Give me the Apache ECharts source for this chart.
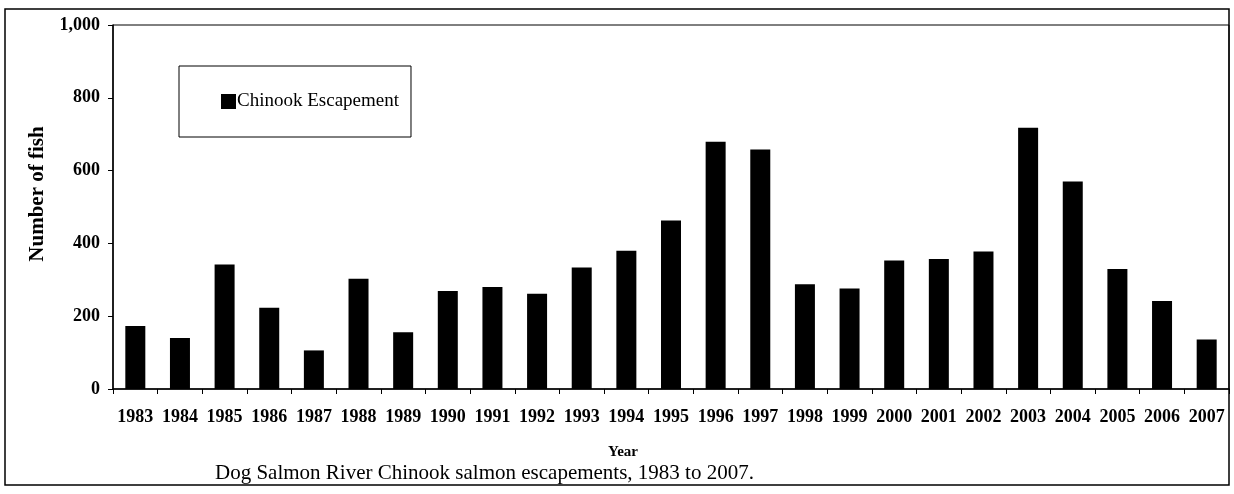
<!DOCTYPE html>
<html>
<head>
<meta charset="utf-8">
<script src="https://cdn.jsdelivr.net/npm/echarts@6/dist/echarts.min.js"></script>
<style>
  html, body { margin: 0; padding: 0; background: #fff; }
  #chart { width: 1234px; height: 494px; }
</style>
</head>
<body>
<div id="chart"></div>
<script>
// escapement counts
const years = ['1983', '1984', '1985', '1986', '1987', '1988', '1989', '1990', '1991', '1992',
  '1993', '1994', '1995', '1996', '1997', '1998', '1999', '2000', '2001', '2002',
  '2003', '2004', '2005', '2006', '2007']
const escapement = [173, 140, 342, 223, 106, 303, 156, 269, 280, 262,
  334, 380, 463, 679, 658, 288, 276, 353, 357, 378,
  718, 570, 330, 242, 136]
const seriesName = 'Chinook Escapement'
const caption = 'Dog Salmon River Chinook salmon escapements, 1983 to 2007.'

const serif = '"Liberation Serif", "DejaVu Serif", serif'
const chart = echarts.init(document.getElementById('chart'))

chart.setOption({
  backgroundColor: '#fff',
  animation: false,
  title: {
    text: caption,
    left: 210, top: 458,
    textStyle: { fontFamily: serif, fontSize: 21, fontWeight: 'normal', color: '#000' },
  },
  legend: {
    data: [seriesName],
    left: 179, top: 66,
    orient: 'vertical',
    padding: [26, 12, 26, 42],
    borderColor: '#000', borderWidth: 1,
    itemWidth: 15, itemHeight: 15, itemGap: 0,
    icon: 'rect',
    textStyle: { fontFamily: serif, fontSize: 19, color: '#000', padding: [0, 0, 0, -4] },
  },
  grid: {
    left: 113, right: 5, top: 25, bottom: 105,
    show: true, borderColor: '#000', borderWidth: 1, backgroundColor: 'transparent',
  },
  xAxis: {
    type: 'category',
    data: years,
    name: 'Year', nameLocation: 'middle', nameGap: 56,
    nameTextStyle: { fontFamily: serif, fontSize: 15, fontWeight: 'bold', color: '#000', padding: [0, 96, 0, 0] },
    axisLine: { lineStyle: { color: '#000', width: 1.5 } },
    axisTick: { show: true, alignWithLabel: false, length: 5, lineStyle: { color: '#000' } },
    axisLabel: { fontFamily: serif, fontSize: 18, fontWeight: 'bold', color: '#000', margin: 19, interval: 0 },
  },
  yAxis: {
    type: 'value',
    min: 0, max: 1000, interval: 200,
    name: 'Number of fish', nameLocation: 'middle', nameGap: 65,
    nameTextStyle: { fontFamily: serif, fontSize: 21, fontWeight: 'bold', color: '#000', padding: [0, 0, 0, 26] },
    axisLine: { show: true, lineStyle: { color: '#000', width: 1.5 } },
    axisTick: { show: true, length: 5, lineStyle: { color: '#000' } },
    splitLine: { show: false },
    axisLabel: {
      fontFamily: serif, fontSize: 18, fontWeight: 'bold', color: '#000', margin: 13,
      formatter: (v) => v.toLocaleString('en-US'),
    },
  },
  series: [{
    name: seriesName,
    type: 'bar',
    data: escapement,
    barWidth: 20,
    itemStyle: { color: '#000' },
  }],
  graphic: [{
    type: 'rect',
    shape: { x: 5, y: 9, width: 1224, height: 476 },
    style: { fill: null, stroke: '#000', lineWidth: 1.5 },
    silent: true,
  }],
})
</script>
</body>
</html>
